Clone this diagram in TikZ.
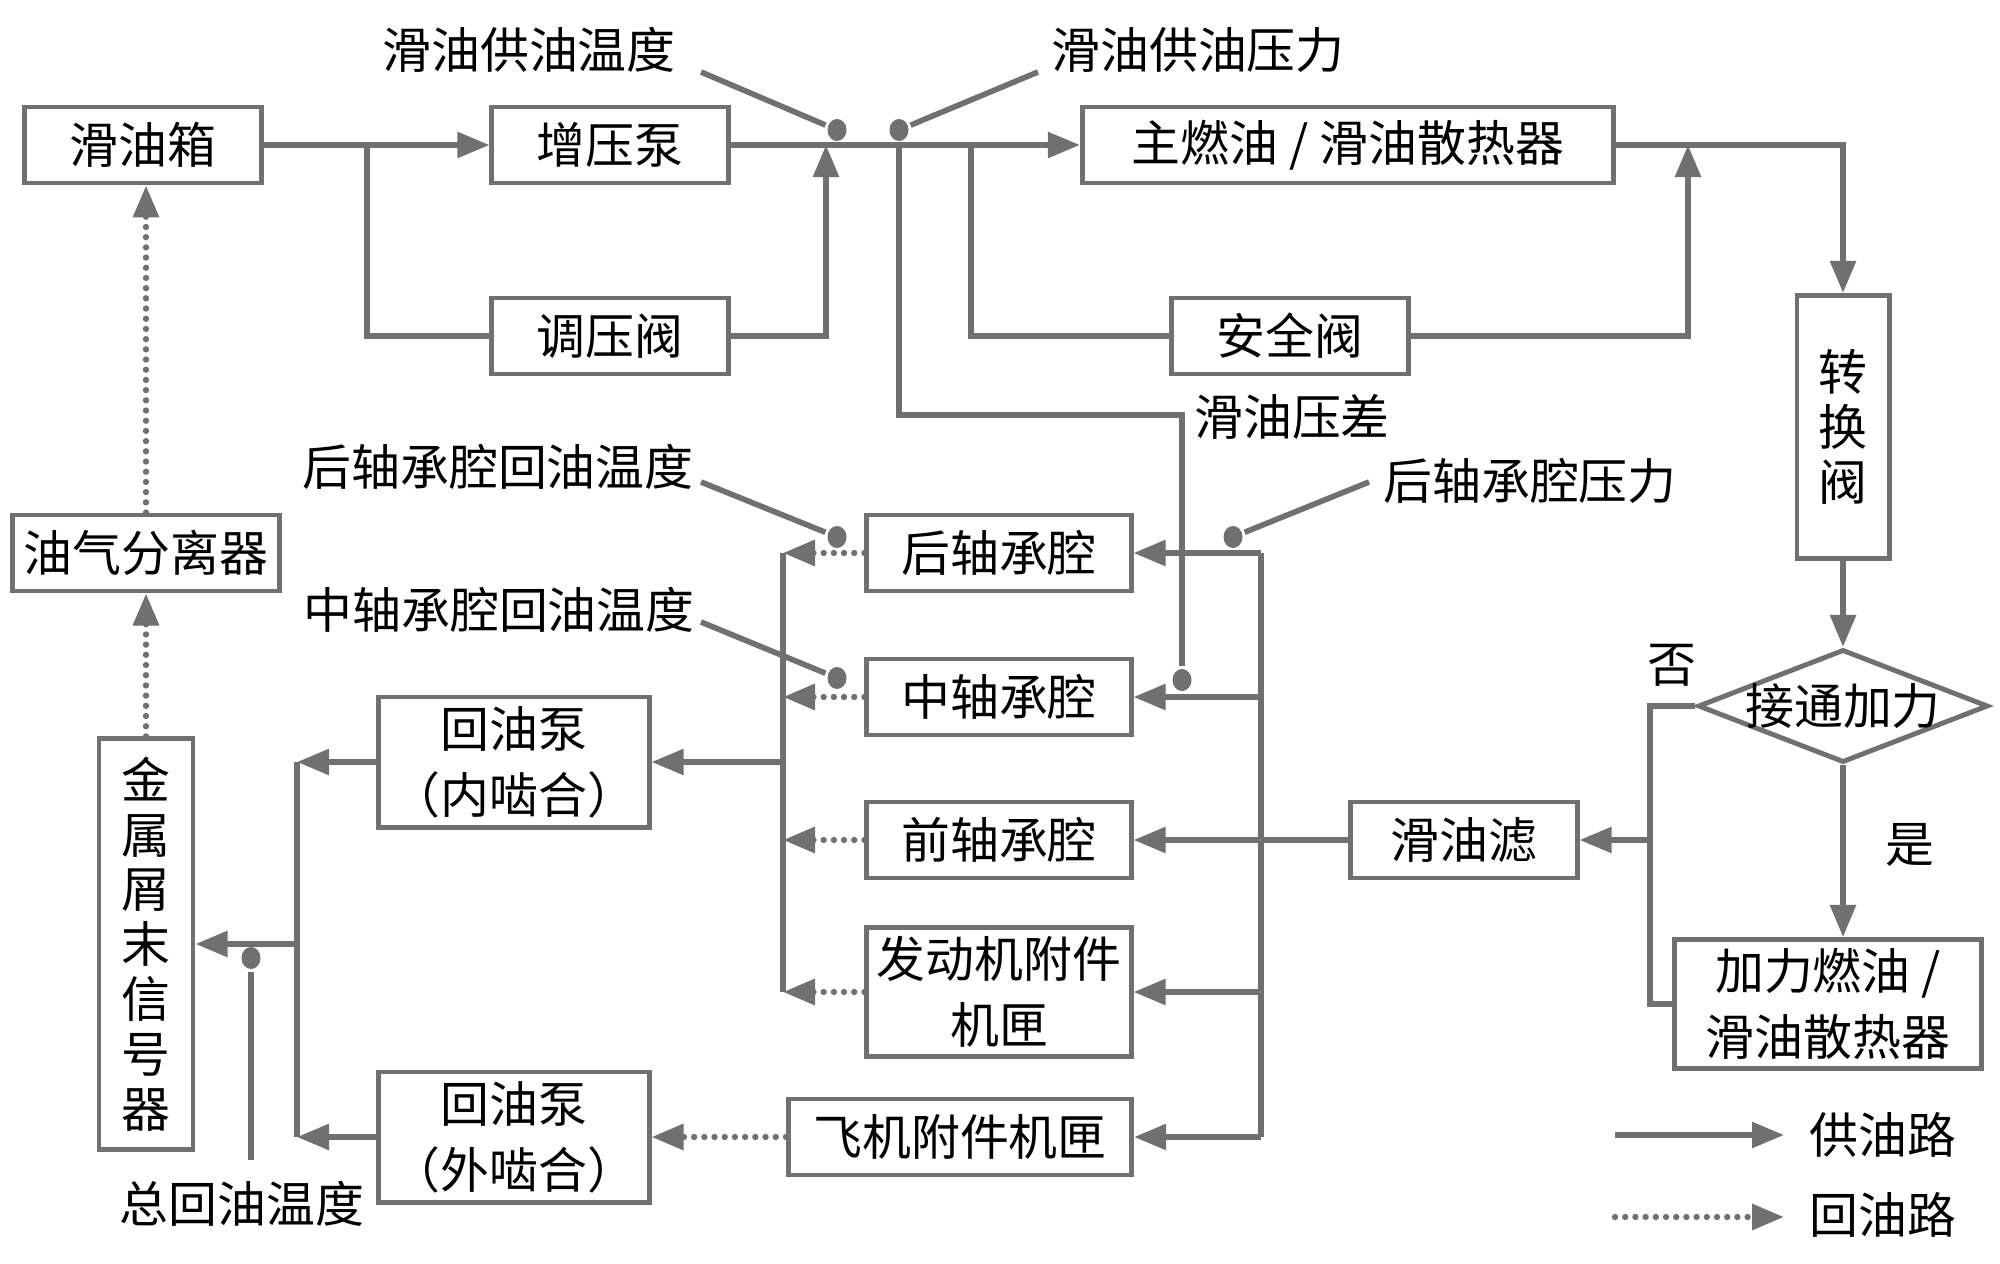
\documentclass[tikz,border=0pt]{standalone}
\usepackage{fontspec}
\setmainfont{Noto Sans CJK SC}
\usetikzlibrary{positioning,arrows.meta,shapes.geometric}
\definecolor{linegray}{RGB}{112,112,112}

\begin{document}
\begin{tikzpicture}[x=0.01cm,y=-0.01cm,line width=1.6pt,draw=linegray]
			\tikzstyle{box} = [draw=linegray, line width=1.4pt, inner sep=0pt, minimum height=0.76cm, align=center, font=\fontsize{13.9}{18.7}\selectfont]
			\tikzstyle{vbox} = [box, font=\fontsize{13.9}{15.6}\selectfont]
			\tikzstyle{tag} = [inner sep=0pt, font=\fontsize{13.9}{18.7}\selectfont]
			\tikzstyle{probe} = [ellipse, fill=linegray, inner sep=0pt, minimum width=0.19cm, minimum height=0.22cm]
			\tikzstyle{feed} = [-{Triangle[length=3.2mm,width=2.5mm]}]
			\tikzstyle{ret} = [dash pattern=on 0pt off 2.9pt, line cap=round, line width=1.8pt]
			\useasboundingbox (0,0) rectangle (2000,1264);
			% supply side
			\node[box, minimum width=2.36cm](tank) at (143,145){滑油箱};
			\node[box, minimum width=2.36cm](boost) at (610,145){增压泵};
			\node[box, minimum width=2.36cm](regv) at (610,336){调压阀};
			\node[box, minimum width=5.31cm](maincool) at (1348,145){主燃油 / 滑油散热器};
			\node[box, minimum width=2.36cm](safev) at (1290,336){安全阀};
			\node[vbox, minimum width=0.92cm, minimum height=2.63cm](switchv) at (1843,427){转\\换\\阀};
			\node[draw=linegray, line width=1.4pt, diamond, aspect=2.57, inner sep=0pt, minimum width=2.9cm, minimum height=1.13cm, font=\fontsize{13.9}{18.7}\selectfont](afterb) at (1843,706){\makebox[0pt]{接通加力}};
			\node[box, minimum width=3.07cm, minimum height=1.29cm](abcool) at (1828,1004){加力燃油 /\\滑油散热器};
			\node[box, minimum width=2.26cm](filter) at (1464,840){滑油滤};
			% bearings and gearboxes
			\node[box, minimum width=2.64cm](rear) at (999,553){后轴承腔};
			\node[box, minimum width=2.64cm](mid) at (999,697){中轴承腔};
			\node[box, minimum width=2.64cm](front) at (999,840){前轴承腔};
			\node[box, minimum width=2.64cm, minimum height=1.29cm](enggb) at (999,992){发动机附件\\机匣};
			\node[box, minimum width=3.43cm](acgb) at (960,1137){飞机附件机匣};
			% scavenge side
			\node[box, minimum width=2.70cm, minimum height=1.30cm](inpump) at (514,762){回油泵\\（内啮合）};
			\node[box, minimum width=2.70cm, minimum height=1.30cm](outpump) at (514,1137){回油泵\\（外啮合）};
			\node[vbox, minimum width=0.94cm, minimum height=4.10cm](chip) at (146,944){金\\属\\屑\\末\\信\\号\\器};
			\node[box, minimum width=2.66cm](sep) at (146,553){油气分离器};
			
			\coordinate(spl) at (367,145);
			\coordinate(rj) at (826,145);
			\coordinate(sd) at (899,145);
			\coordinate(ss) at (971,145);
			\coordinate(sj) at (1688,145);
			\coordinate(nj) at (1650,840);
			\coordinate(sb) at (1261,840);
			\coordinate(rb) at (783,762);
			\coordinate(cb) at (297,944);
			\coordinate(pdk) at (1182,415);
			
			\draw[feed](tank) -- (boost);
			\draw(spl) |- (regv.west);
			\draw[feed](regv.east) -| (rj);
			\draw[feed](boost) -- (maincool);
			\draw(ss) |- (safev.west);
			\draw[feed](safev.east) -| (sj);
			\draw[feed](maincool.east) -| (switchv.north);
			\draw[feed](switchv) -- (afterb);
			\draw[feed](afterb.south) -- (afterb.south |- abcool.north);
			\draw(afterb.west) -| (nj) |- (abcool.west);
			\draw[feed](nj) -- (filter);
			\draw[feed](filter) -- (front);
			\draw(sb |- rear.east) -- (sb |- acgb.east);
			\foreach \n in {rear,mid,enggb,acgb}
				\draw[feed](sb |- \n.east) -- (\n.east);
			
			\foreach \n in {rear,mid,front,enggb}
				\draw[ret,feed](\n.west) -- (\n.west -| rb);
			\draw(rb |- rear.west) -- (rb |- enggb.west);
			\draw[feed](rb) -- (inpump);
			\draw[ret,feed](acgb) -- (outpump);
			\draw[feed](inpump) -- (inpump.west -| cb);
			\draw[feed](outpump) -- (outpump.west -| cb);
			\draw(cb |- inpump.west) -- (cb |- outpump.west);
			\draw[feed](cb) -- (chip);
			\draw[ret,feed](chip) -- (sep);
			\draw[ret,feed](sep) -- (sep |- tank.south);
			
			% measuring points
			\node[probe](ptemp) at (837,130){};
			\node[tag](ptempt) at (529,50){滑油供油温度};
			\coordinate(ptempc) at (701,72);
			\draw(ptempc) -- (ptemp);
			\node[probe](ppres) at (899,130){};
			\node[tag](pprest) at (1198,50){滑油供油压力};
			\coordinate(ppresc) at (1038,72);
			\draw(ppres) -- (ppresc);
			\node[probe](pdiff) at (1182,680){};
			\node[tag](pdifft) at (1292,417){滑油压差};
			\draw(sd) |- (pdk) -- (pdiff);
			\node[probe](rpres) at (1233,537){};
			\node[tag](rprest) at (1530,481){后轴承腔压力};
			\coordinate(rpresc) at (1369,482);
			\draw(rpres) -- (rpresc);
			\node[probe](rtemp) at (837,537){};
			\node[tag](rtempt) at (498,467){后轴承腔回油温度};
			\coordinate(rtempc) at (701,482);
			\draw(rtempc) -- (rtemp);
			\node[probe](mtemp) at (837,678){};
			\node[tag](mtempt) at (499,610){中轴承腔回油温度};
			\coordinate(mtempc) at (701,622);
			\draw(mtempc) -- (mtemp);
			\node[probe](ttemp) at (251,958){};
			\node[tag](ttempt) at (242,1204){总回油温度};
			\coordinate(ttempc) at (251,1160);
			\draw(ttemp) -- (ttempc);
			
			\node[tag](no) at (1672,665){否};
			\node[tag](yes) at (1910,845){是};
			
			% legend
			\node[tag](lsup) at (1883,1135){供油路};
			\node[tag](lret) at (1883,1215){回油路};
			\coordinate(lsa) at (1615,1135);
			\coordinate(lra) at (1615,1217);
			\draw[feed](lsa) -- (1784,1135);
			\draw[ret,feed](lra) -- (1784,1217);
		\end{tikzpicture}
\end{document}
